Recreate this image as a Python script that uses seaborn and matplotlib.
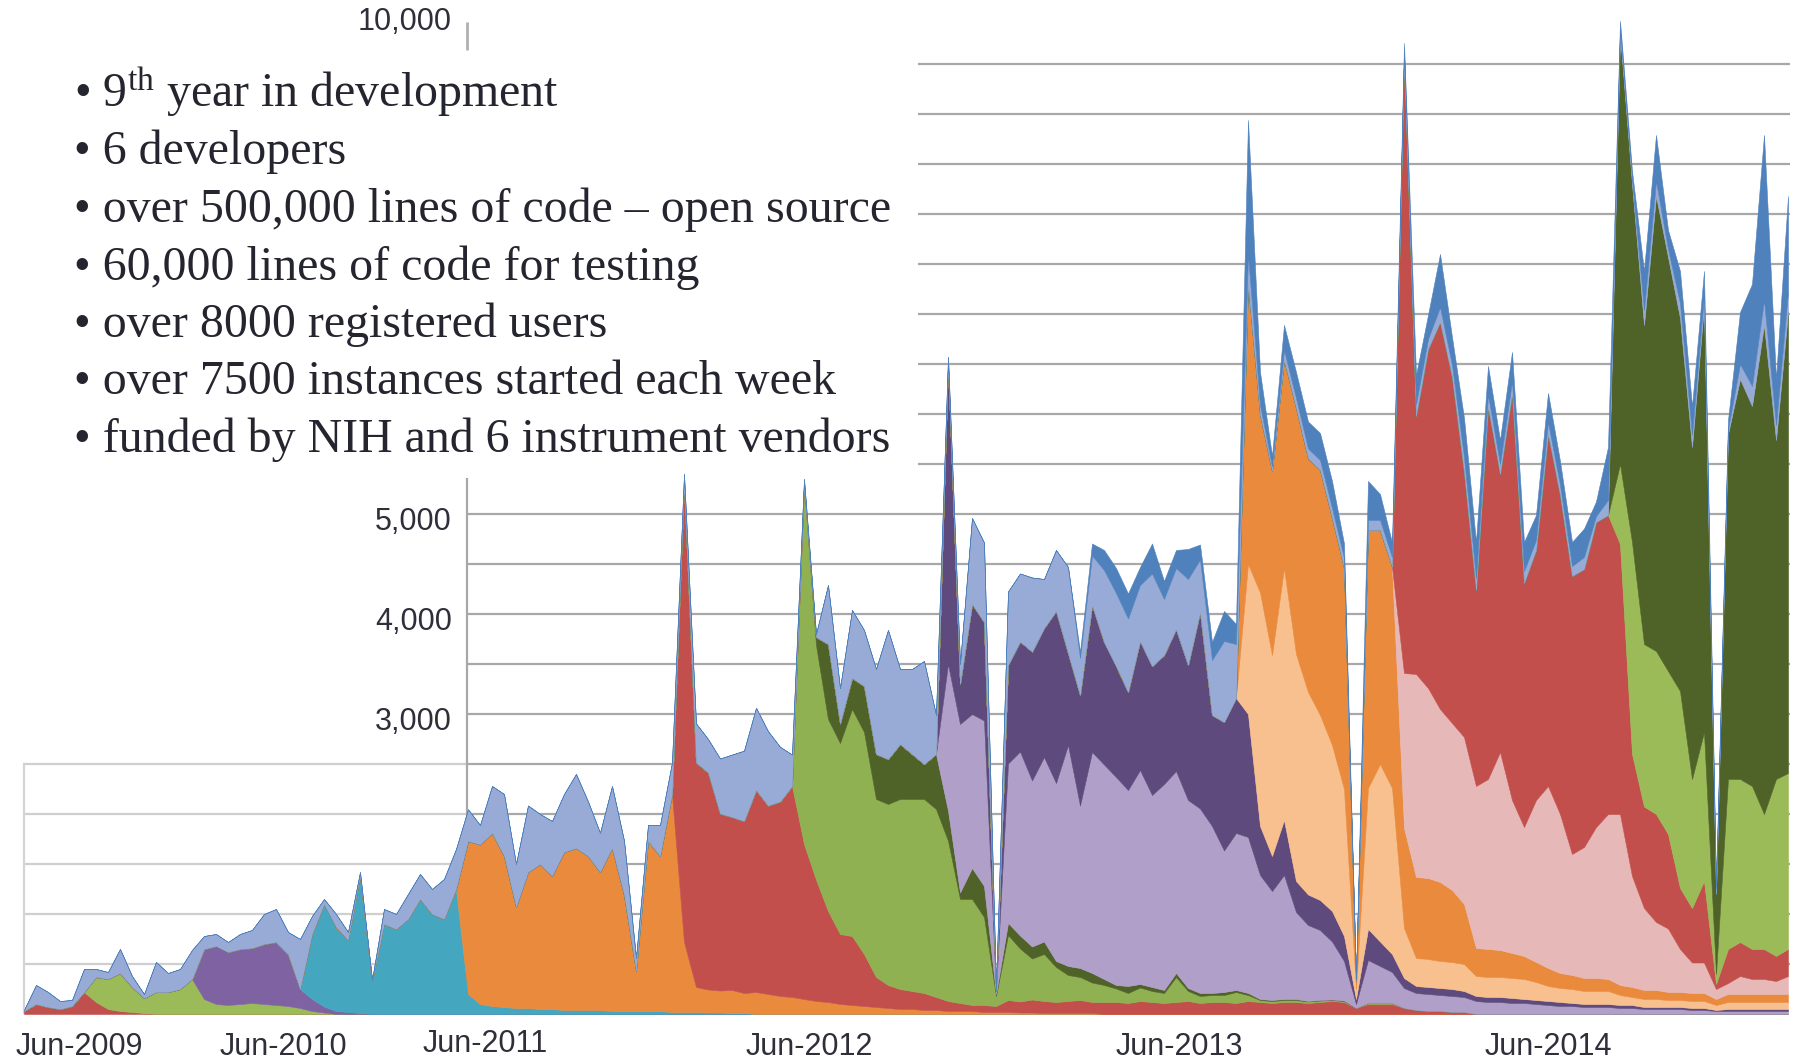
import numpy as np
import pandas as pd
import matplotlib
matplotlib.use("Agg")
import matplotlib.pyplot as plt
import seaborn as sns

# ---------------- data (weekly samples, stacked by release) ----------------
n_weeks = 148

red_a_start = 0
red_a = [30, 100, 70, 50, 80, 220, 120, 50, 30, 20, 10]

green_a_start = 6
green_a = [250, 300, 380, 250, 150, 220, 220, 250, 350, 150, 100, 90, 100, 110, 100,
           90, 80, 60, 30, 15]

purple_a_start = 15
purple_a = [500, 580, 530, 550, 550, 600, 630, 520, 190, 120, 60, 30, 20, 10]

teal_start = 24
teal = [650, 1025, 840, 720, 1370, 330, 900, 850, 950, 1150, 1000, 950, 1250, 200, 100,
        80, 70, 60, 60, 50, 50, 40, 40, 40, 40, 30, 30, 30, 30, 30, 20, 20, 20, 15, 15,
        10, 10]

orange_a_start = 37
orange_a = [1530, 1595, 1730, 1510, 1010, 1360, 1450, 1330, 1580, 1620, 1540, 1380, 1630,
            1160, 400, 1700, 1550, 2180, 700, 250, 230, 220, 230, 200, 220, 200, 180, 170,
            150, 130, 120, 100, 90, 80, 70, 60, 50, 50, 40, 40, 30, 30, 30, 20, 20, 20, 15,
            15, 10, 10, 10, 10, 10]

red_b_start = 55
red_b = [4580, 2245, 2170, 1770, 1730, 1720, 2020, 1885, 1945, 2110, 1550, 1214, 910, 700,
         690, 520, 300, 230, 200, 180, 170, 130, 100, 80, 60, 70, 60,
         120, 110, 130, 120, 110, 120, 130, 110, 120, 120, 110, 130, 120, 110, 120, 130,
         110, 120, 120, 110, 130, 120, 110, 120, 120, 110, 120, 130, 120,
         60, 100, 100, 100, 60, 40, 30, 30, 20, 20]

green_b_start = 65
green_b = [3600, 2346, 1920, 1910, 2270, 2220, 1780, 1810, 1900, 1920, 1940, 1880, 1604,
           1040, 1060, 880, 100, 650, 530, 410, 470, 350, 260, 230, 195, 170, 135, 100,
           135, 110, 100, 250, 100, 70, 70, 70, 110, 60, 20, 20, 20, 20, 15, 15, 10, 10,
           0, 10, 10, 10]

dkgreen_b_start = 65
dkgreen_b = [0, 80, 750, 196, 310, 460, 450, 450, 550, 450, 350, 550, 300, 65, 310, 310,
             20, 120, 130, 120, 125, 60, 90, 90, 95, 60, 35, 70, 35, 40, 30, 40, 30, 30,
             20, 30, 20, 20, 10, 10, 10, 10, 5, 5, 5, 5]

ltpurple_start = 77
ltpurple = [1466, 1685, 1540, 1655, 30, 1595, 1840, 1660, 1845, 1780, 2210, 1625, 2210,
            2145, 2080, 1960, 2140, 1920, 2060, 2020, 1880, 1845, 1670, 1415, 1570, 1560,
            1240, 1090, 1240, 870, 760, 700, 580, 395, 40, 430, 370, 310,
            200, 170, 170, 160, 160, 150, 130, 120, 120, 110, 110, 100, 90, 80, 80, 70, 70,
            70, 60, 60, 50, 50, 50, 50, 40, 40, 30, 30, 30, 30, 30, 30, 30]

dkpurple_start = 77
dkpurple = [3000, 400, 1100, 985, 10, 985, 1100, 1290, 1290, 1720, 920, 1105, 1470, 1225,
            1110, 980, 1290, 1290, 1290, 1420, 1350, 1965, 1110, 1285, 1350, 1230, 490,
            350, 550, 310, 305, 300, 305, 250, 50, 310, 245, 180,
            100, 70, 70, 70, 70, 60, 50, 50, 50, 50, 40, 40, 40, 40, 30, 30, 30, 30, 30,
            30, 20, 20, 20, 20, 20, 20, 10, 20, 20, 20, 20, 20, 20]

peach_start = 102
peach = [1500, 2335, 2010, 2520, 2270, 2025, 1850, 1660, 1470, 100, 1410, 1775, 1660,
         500, 280, 280, 270, 270, 270, 200, 200, 200, 200, 200, 180, 150, 140, 140, 130,
         130, 130, 100, 80, 80, 80, 70, 70, 70, 70, 50, 70, 70, 70, 70, 70, 70]

orange_b_start = 102
orange_b = [2800, 1775, 1840, 2080, 2460, 2335, 2450, 2270, 2210, 80, 2580, 2340, 2210,
            1000, 810, 810, 790, 720, 600, 280, 280, 270, 250, 230, 200, 180, 150, 140,
            130, 130, 120, 100, 100, 90, 90, 80, 80, 80, 80, 60, 80, 80, 80, 80, 80, 80]

pink_start = 115
pink = [1550, 2030, 1900, 1730, 1670, 1670, 1620, 1700, 1980, 1530, 1290, 1620, 1820,
        1590, 1210, 1310, 1510, 1650, 1710, 1110, 820, 680, 635, 430, 305, 305, 100, 110,
        180, 150, 150, 130, 180]

red_c_start = 115
red_c = [6150, 2580, 3390, 3870, 3460, 2650, 1960, 3725, 2780, 4070, 2440, 2500, 3520,
         3190, 2780, 2780, 3050, 2990, 2700, 1220, 1015, 1080, 945, 610, 545, 815, 50,
         340, 340, 300, 300, 250, 270]

ltgreen_start = 133
ltgreen = [800, 2120, 1625, 1630, 1630, 1970, 1290, 1490, 100, 1700, 1630, 1630, 1350,
           1770, 1760]

dkgreen_c_start = 133
dkgreen_c = [4300, 3580, 3190, 4550, 4140, 3730, 3320, 4270, 800, 3450, 4000, 3800, 4890,
             3390, 4610]

other_light_start = 0
other_light = [10, 190, 150, 80, 60, 230, 80, 70, 240, 110, 40, 300, 190, 200, 290, 130,
               120, 100, 150, 180, 300, 330, 220, 500, 180, 50, 130, 80, 40, 10, 150, 150,
               250, 250, 250, 400, 400,
               317, 195, 470, 620, 430, 665, 500, 550, 580, 740, 545, 392, 620, 544, 130,
               160, 310, 315, 100, 391, 335, 550, 624, 703, 822, 743, 547, 314,
               50, 30, 590, 352, 680, 560, 850, 1290, 750, 850, 1030, 390,
               70, 200, 860, 795, 10, 735, 680, 740, 490, 610, 860, 370, 495, 720, 730,
               735, 560, 925, 560, 610, 860, 525, 550, 810, 540,
               300, 100, 50, 100, 100, 100, 100, 100, 100, 10, 100, 100, 100, 50,
               120, 100, 150, 120, 150, 120, 120, 100, 120, 120, 100, 120, 100, 100, 120,
               60, 150, 50, 50, 150, 150, 80, 150, 120, 100, 40, 50, 150, 200, 250, 150,
               200]

other_blue_start = 88
other_blue = [60, 120, 200, 250, 250, 180, 300, 180, 180, 300, 150, 180, 300, 200,
              1340, 330, 100, 250, 260, 270, 270, 270, 145, 10, 390, 260, 145, 100,
              290, 240, 530, 280, 390, 360, 285, 240, 290, 290, 250, 290, 240, 240, 285,
              145, 530, 80, 80, 390, 460, 190, 320, 285, 240, 60, 90, 520, 1020, 1650,
              460, 960]

x_tick_labels = ["Jun-2009", "Jun-2010", "Jun-2011", "Jun-2012", "Jun-2013", "Jun-2014"]
x_tick_pos = [4.6, 21.6, 38.4, 65.4, 96.25, 127.0]

y_tick_values = [10000, 5000, 4000, 3000]
y_tick_labels = ["10,000", "5,000", "4,000", "3,000"]

grid_low = [500, 1000, 1500, 2000, 2500]
grid_mid = [3000, 3500, 4000, 4500, 5000]
grid_high = [5500, 6000, 6500, 7000, 7500, 8000, 8500, 9000, 9500]

bullets = [
    r"• $9^{\mathrm{th}}$ year in development",
    "• 6 developers",
    "• over 500,000 lines of code – open source",
    "• 60,000 lines of code for testing",
    "• over 8000 registered users",
    "• over 7500 instances started each week",
    "• funded by NIH and 6 instrument vendors",
]

# ---------------- assemble ----------------
layers = [
    ("red_a", red_a_start, red_a, "#c0504d"),
    ("green_a", green_a_start, green_a, "#9bbb59"),
    ("purple_a", purple_a_start, purple_a, "#7f62a1"),
    ("teal", teal_start, teal, "#45a6c0"),
    ("orange_a", orange_a_start, orange_a, "#e98a3d"),
    ("red_b", red_b_start, red_b, "#c24f4b"),
    ("green_b", green_b_start, green_b, "#8fb151"),
    ("dkgreen_b", dkgreen_b_start, dkgreen_b, "#4f6228"),
    ("ltpurple", ltpurple_start, ltpurple, "#b09fc8"),
    ("dkpurple", dkpurple_start, dkpurple, "#5f4a7d"),
    ("peach", peach_start, peach, "#f9c08f"),
    ("orange_b", orange_b_start, orange_b, "#e98a3d"),
    ("pink", pink_start, pink, "#e6b8b7"),
    ("red_c", red_c_start, red_c, "#c24f4b"),
    ("ltgreen", ltgreen_start, ltgreen, "#9bbb59"),
    ("dkgreen_c", dkgreen_c_start, dkgreen_c, "#4f6228"),
    ("other_light", other_light_start, other_light, "#97abd6"),
    ("other_blue", other_blue_start, other_blue, "#4f81bd"),
]


def expand(start, vals):
    arr = np.zeros(n_weeks)
    vals = list(vals)[: n_weeks - start]
    arr[start:start + len(vals)] = vals
    return arr


df = pd.DataFrame({name: expand(s, v) for name, s, v, _ in layers})
df.index.name = "week"
colors = [c for *_, c in layers]

# ---------------- draw ----------------
sns.set_theme(style="white")
plt.rcParams["font.family"] = ["Liberation Sans", "DejaVu Sans"]
plt.rcParams["mathtext.fontset"] = "custom"
plt.rcParams["mathtext.rm"] = "Liberation Serif"
plt.rcParams["mathtext.it"] = "Liberation Serif:italic"
plt.rcParams["mathtext.bf"] = "Liberation Serif:bold"

W, H = 1803, 1063
fig = plt.figure(figsize=(W / 100, H / 100), dpi=100)
fig.patch.set_facecolor("white")

px_left, px_right = 23, 1790
px_base, px_top = 1014, 14
ax = fig.add_axes([px_left / W, (H - px_base) / H, (px_right - px_left) / W,
                   (px_base - px_top) / H])
ax.set_facecolor("none")
x_lo = (px_left - 24) / 12
x_hi = (px_right - 24) / 12
ax.set_xlim(x_lo, x_hi)
ax.set_ylim(0, 10000)
for sp in ax.spines.values():
    sp.set_visible(False)
ax.set_xticks([])
ax.set_yticks([])

x_mid = (467 - 24) / 12
x_right = (918 - 24) / 12

# gridlines
ax.hlines(grid_low, x_lo, x_mid, colors="#cfcfcf", linewidth=1.6, zorder=1)
ax.hlines(grid_low, x_mid, x_hi, colors="#a8a8a8", linewidth=1.6, zorder=1)
ax.hlines(grid_mid, x_mid, x_hi, colors="#a8a8a8", linewidth=1.6, zorder=1)
ax.hlines(grid_high, x_right, x_hi, colors="#a8a8a8", linewidth=1.6, zorder=1)
ax.vlines([x_lo + 0.05], 0, grid_low[-1], colors="#d4d4d4", linewidth=1.6,
          zorder=1, clip_on=False)
ax.vlines([x_mid], 0, 5360, colors="#a8a8a8", linewidth=1.6, zorder=1)
ax.vlines([x_mid], 9640, 9920, colors="#b0b0b0", linewidth=2.0, zorder=1)

# stacked areas
ax.stackplot(df.index.values, df.T.values, colors=colors, edgecolor="face",
             linewidth=0.4, zorder=2)

# y labels
for v, lab in zip(y_tick_values, y_tick_labels):
    ax.text((452 - 24) / 12, v - 80, lab, ha="right", va="center", fontsize=22,
            color="#2f2f3a", family=["Liberation Sans", "DejaVu Sans"], zorder=5)

# x labels
for pos, lab in zip(x_tick_pos, x_tick_labels):
    yv = -300 if lab == "Jun-2011" else -330
    ax.text(pos, yv, lab, ha="center", va="center", fontsize=22, color="#2f2f3a",
            family=["Liberation Sans", "DejaVu Sans"], clip_on=False, zorder=5)

# bullet block
for k, line in enumerate(bullets):
    base_px = 107 + 57.5 * k
    fig.text(74 / W, 1 - base_px / H, line, ha="left", va="baseline",
             fontsize=34.5, color="#25252f",
             family=["Liberation Serif", "DejaVu Serif"])

fig.savefig("out.png", dpi=100, facecolor="white")
